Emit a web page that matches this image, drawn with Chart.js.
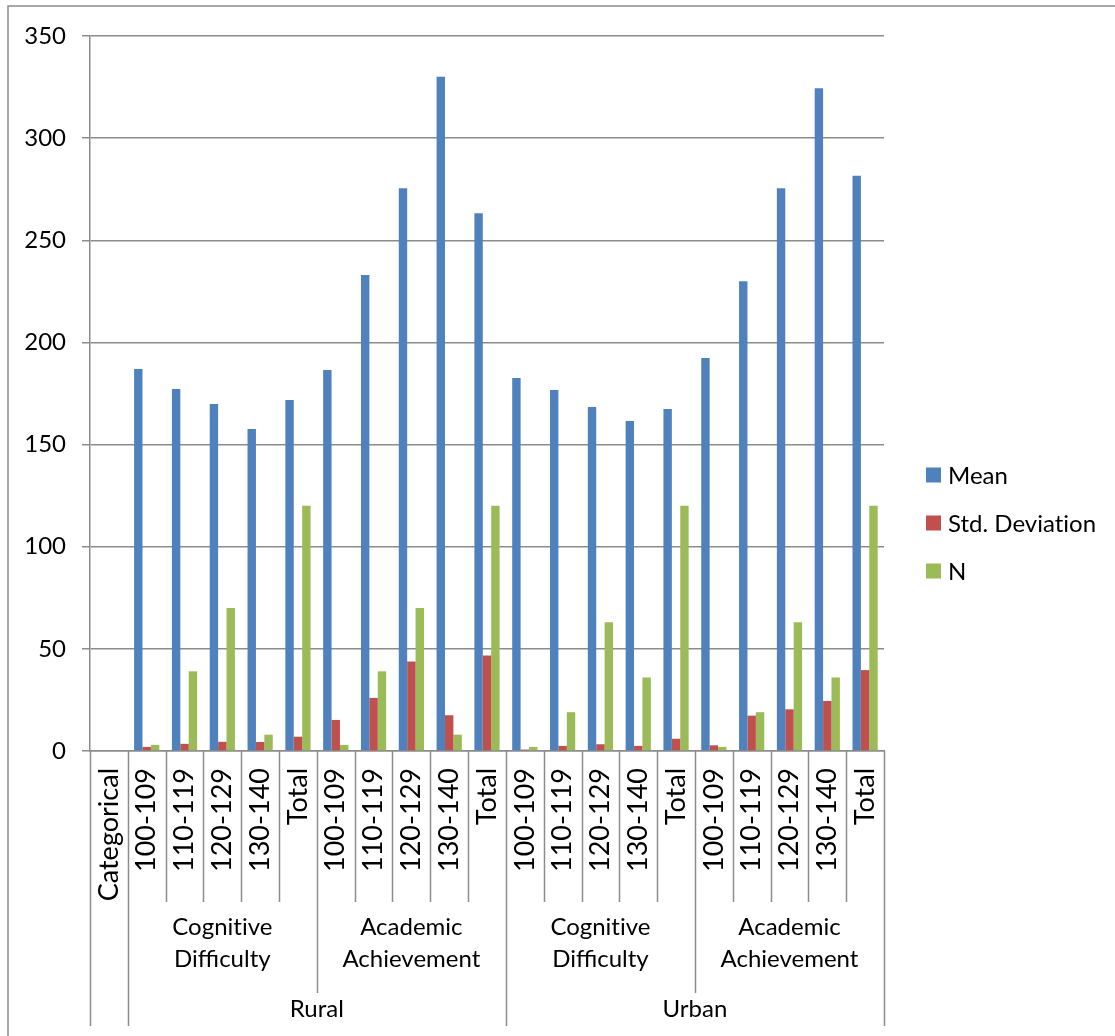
<!DOCTYPE html>
<html>
<head>
<meta charset="utf-8">
<title>Mean, Std. Deviation and N by group</title>
<script src="https://cdn.jsdelivr.net/npm/chart.js@4/dist/chart.umd.min.js"></script>
<style>
  html, body { margin: 0; padding: 0; background: #ffffff; }
  #wrap { width: 1115px; height: 1036px; position: relative; }
</style>
</head>
<body>
<div id="wrap"><canvas id="chart" width="1115" height="1036"></canvas></div>
<script>
// Leaf categories along the x axis
const categories = [
  'Categorical',
  '100-109', '110-119', '120-129', '130-140', 'Total',
  '100-109', '110-119', '120-129', '130-140', 'Total',
  '100-109', '110-119', '120-129', '130-140', 'Total',
  '100-109', '110-119', '120-129', '130-140', 'Total'
];

// Series values
const meanValues = [null, 187, 177.2, 169.9, 157.6, 171.8, 186.5, 233, 275.5, 330, 263.2,
                    182.6, 176.7, 168.4, 161.5, 167.4, 192.4, 230, 275.5, 324.4, 281.6];
const sdValues   = [null, 2, 3.5, 4.5, 4.4, 7, 15.2, 26, 43.8, 17.5, 46.8,
                    0.7, 2.5, 3.3, 2.5, 6, 2.8, 17.3, 20.4, 24.5, 39.6];
const nValues    = [null, 3, 39, 70, 8, 120, 3, 39, 70, 8, 120,
                    2, 19, 63, 36, 120, 2, 19, 63, 36, 120];

// Higher category levels
const subjectLabels = [['Cognitive', 'Difficulty'], ['Academic', 'Achievement'],
                       ['Cognitive', 'Difficulty'], ['Academic', 'Achievement']];
const areaLabels = ['Rural', 'Urban'];

const seriesNames = ['Mean', 'Std. Deviation', 'N'];
const seriesColors = ['#4F81BD', '#C0504D', '#9BBB59'];

// y axis range
const yMin = 0, yMax = 350, yStep = 50;

const FONT = 'Lato, "Open Sans", sans-serif';
const FONT_SIZE = 24;
const ROT_FONT_SIZE = 27;
const LINE = '#8c8c8c';

// keep "ti" as two separate glyphs (no ligature)
const noLig = s => s.replace(/ti/g, 't\u200Ci');

// Multi-level category axis, outer frame and legend
const extrasPlugin = {
  id: 'extras',
  beforeDraw(chart) {
    const ctx = chart.ctx;
    ctx.save();
    ctx.strokeStyle = LINE;
    ctx.lineWidth = 1.5;
    ctx.beginPath();
    ctx.moveTo(8, chart.height);
    ctx.lineTo(8, 6);
    ctx.lineTo(chart.width, 6);
    ctx.stroke();
    ctx.restore();
  },
  afterDraw(chart) {
    const ctx = chart.ctx;
    const xs = chart.scales.x;
    const area = chart.chartArea;
    const n = categories.length;
    const catW = (xs.right - xs.left) / n;
    const edge = i => xs.getPixelForValue(0) - catW / 2 + i * catW;
    const row1 = area.bottom + 151;
    const row2 = area.bottom + 242;
    const row3 = area.bottom + 275;

    ctx.save();
    ctx.strokeStyle = LINE;
    ctx.lineWidth = 1.5;
    for (let i = 0; i <= n; i++) {
      let end = row1;
      if (i === 0 || i === 1 || i === 11 || i === 21) end = row3;
      else if (i === 6 || i === 16) end = row2;
      const x = Math.round(edge(i)) + 0.5;
      ctx.beginPath();
      ctx.moveTo(x, area.bottom);
      ctx.lineTo(x, end);
      ctx.stroke();
    }

    ctx.fillStyle = '#000000';
    ctx.font = FONT_SIZE + 'px ' + FONT;
    ctx.textAlign = 'center';
    ctx.textBaseline = 'middle';
    subjectLabels.forEach((lines, g) => {
      const cx = (edge(1 + g * 5) + edge(6 + g * 5)) / 2;
      const cy = (row1 + row2) / 2 - 4;
      ctx.fillText(noLig(lines[0]), cx, cy - 16);
      ctx.fillText(noLig(lines[1]), cx, cy + 16);
    });
    areaLabels.forEach((label, g) => {
      const cx = (edge(1 + g * 10) + edge(11 + g * 10)) / 2;
      ctx.fillText(label, cx, (row2 + row3) / 2);
    });

    // legend
    const lx = 926, ly0 = 475, gap = 48;
    ctx.textAlign = 'left';
    seriesNames.forEach((name, i) => {
      const cy = ly0 + i * gap;
      ctx.fillStyle = seriesColors[i];
      ctx.fillRect(lx, cy - 7.5, 15, 15);
      ctx.fillStyle = '#000000';
      ctx.fillText(noLig(name), lx + 22, cy + 1);
    });
    ctx.restore();
  }
};

const datasets = [meanValues, sdValues, nValues].map((vals, i) => ({
  label: seriesNames[i],
  data: vals,
  backgroundColor: seriesColors[i],
  borderWidth: 0,
  categoryPercentage: 3 / 4.5,
  barPercentage: 1.0
}));

new Chart(document.getElementById('chart'), {
  type: 'bar',
  data: { labels: categories, datasets },
  options: {
    responsive: false,
    animation: false,
    devicePixelRatio: 1,
    layout: { padding: { top: 36, right: 231, bottom: 10, left: 0 } },
    plugins: {
      legend: { display: false },
      tooltip: { enabled: false }
    },
    scales: {
      x: {
        afterFit(scale) { scale.height = 275; },
        grid: { display: false, drawTicks: false },
        border: { display: true, color: LINE, width: 1.5 },
        ticks: {
          autoSkip: false,
          minRotation: 90,
          maxRotation: 90,
          padding: 17,
          color: '#000000',
          font: { family: FONT, size: ROT_FONT_SIZE }
        }
      },
      y: {
        min: yMin,
        max: yMax,
        afterFit(scale) { scale.width = 90; },
        grid: { color: LINE, lineWidth: 1.5, tickLength: 8, drawTicks: true },
        border: { display: true, color: LINE, width: 1.5 },
        ticks: {
          stepSize: yStep,
          padding: 16,
          color: '#000000',
          font: { family: FONT, size: FONT_SIZE }
        }
      }
    }
  },
  plugins: [extrasPlugin]
});
</script>
</body>
</html>
